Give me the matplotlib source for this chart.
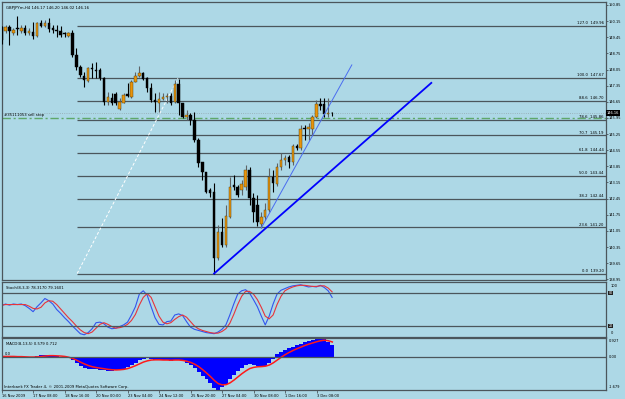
import matplotlib
matplotlib.use("Agg")
import matplotlib.pyplot as plt
import numpy as np

# --- candles (GBPJPYm H4) ---
opens = [149.90, 149.71, 149.88, 149.62, 149.84, 149.73, 149.84, 149.62, 149.69, 149.51,
         150.08, 149.95, 150.08, 149.84, 149.77, 149.72, 149.62, 149.52, 149.65, 148.68,
         148.17, 147.77, 147.55, 148.10, 148.03, 148.03, 147.67, 146.65, 146.83, 146.98,
         146.33, 146.61, 146.98, 146.87, 147.52, 147.77, 147.91, 147.67, 147.24, 146.73,
         146.59, 146.76, 146.85, 146.90, 146.65, 147.42, 146.59, 145.98, 146.08, 145.86,
         144.99, 144.03, 143.59, 142.82, 142.75, 139.86, 141.00, 140.44, 141.65, 143.04,
         142.95, 142.82, 142.95, 143.69, 142.48, 142.17, 141.35, 141.65, 141.96, 143.39,
         143.08, 143.82, 144.13, 144.26, 144.04, 144.73, 144.65, 145.51, 145.47, 145.47,
         145.99, 146.56, 146.56, 146.12, 146.17]
highs = [149.94, 149.98, 149.98, 149.84, 150.37, 149.98, 149.98, 149.84, 150.13, 150.13,
         150.20, 150.20, 150.27, 149.98, 149.98, 149.94, 149.69, 149.69, 149.77, 148.97,
         148.25, 147.96, 148.17, 148.32, 148.39, 148.10, 147.74, 147.09, 147.02, 147.09,
         146.80, 147.05, 147.45, 147.60, 147.96, 148.20, 147.96, 147.74, 147.45, 147.02,
         147.09, 147.02, 147.05, 147.02, 147.60, 147.63, 146.62, 146.29, 146.15, 146.22,
         145.07, 144.05, 143.62, 142.90, 143.11, 141.31, 141.61, 142.17, 143.39, 143.47,
         143.04, 143.26, 143.91, 143.82, 142.69, 142.61, 141.87, 142.26, 143.78, 143.69,
         144.00, 144.43, 144.34, 144.34, 144.82, 144.82, 145.64, 145.64, 145.73, 146.08,
         146.73, 146.82, 146.82, 146.82, 146.20]
lows = [149.16, 149.62, 149.11, 149.55, 149.55, 149.62, 149.55, 149.55, 149.36, 149.47,
        149.91, 149.91, 149.69, 149.62, 149.47, 149.47, 149.47, 149.47, 148.61, 148.03,
        147.74, 147.31, 147.52, 147.67, 147.67, 147.60, 146.51, 146.51, 146.51, 146.51,
        146.29, 146.59, 146.87, 146.83, 147.50, 147.74, 147.60, 147.09, 146.65, 146.22,
        146.22, 146.73, 146.59, 146.51, 146.59, 146.08, 145.93, 145.86, 145.64, 144.92,
        143.83, 143.26, 142.68, 142.51, 139.20, 139.79, 140.35, 140.35, 141.61, 142.82,
        142.52, 142.61, 142.82, 142.17, 141.44, 141.26, 141.18, 141.52, 141.87, 142.74,
        143.00, 143.69, 143.91, 143.78, 143.91, 144.56, 144.56, 144.99, 144.99, 145.21,
        145.95, 146.29, 145.99, 145.99, 146.02]
closes = [149.33, 149.88, 149.73, 149.77, 149.80, 149.84, 149.65, 149.72, 149.51, 150.08,
          149.94, 150.08, 149.80, 149.77, 149.72, 149.55, 149.59, 149.62, 148.68, 148.17,
          147.81, 147.60, 148.10, 148.06, 147.99, 147.67, 146.65, 146.87, 146.59, 146.59,
          146.65, 146.95, 146.92, 147.52, 147.77, 147.91, 147.63, 147.24, 146.73, 146.63,
          146.76, 146.87, 146.90, 146.59, 147.42, 146.59, 146.00, 146.08, 145.86, 144.99,
          143.98, 143.62, 142.75, 142.71, 139.86, 141.02, 140.44, 141.70, 142.95, 142.95,
          142.61, 143.08, 143.69, 142.48, 141.87, 141.44, 141.65, 141.96, 143.39, 143.13,
          143.82, 144.13, 144.21, 144.04, 144.73, 144.65, 145.47, 145.47, 145.56, 145.99,
          146.56, 146.47, 146.12, 146.16, 146.16]

# --- Stochastic(8,3,3) ---
stoch_main = [57, 60, 58, 60, 59, 60, 57, 52, 46, 55, 62, 70, 66, 60, 50, 43, 35, 28, 20, 13,
              6, 4, 8, 15, 26, 27, 24, 18, 15, 16, 19, 22, 27, 40, 55, 78, 84, 76, 55, 35,
              23, 22, 28, 29, 40, 42, 39, 28, 18, 14, 12, 10, 8, 7, 6, 9, 14, 22, 40, 60,
              78, 84, 86, 80, 68, 55, 38, 22, 38, 60, 78, 85, 88, 91, 93, 94, 95, 93, 91, 92,
              91, 94, 90, 84, 72]
stoch_signal = [58, 59, 59, 59, 59, 59, 59, 56, 52, 51, 54, 62, 66, 65, 59, 51, 43, 35, 28, 20,
                13, 8, 6, 9, 16, 23, 26, 23, 19, 16, 17, 19, 23, 30, 41, 58, 72, 79, 72, 55,
                38, 27, 24, 26, 32, 37, 40, 36, 28, 20, 15, 12, 10, 8, 7, 7, 10, 15, 25, 41,
                59, 74, 83, 83, 78, 68, 54, 38, 33, 40, 59, 74, 84, 88, 91, 93, 94, 94, 93, 92,
                92, 93, 93, 89, 82]

# --- MACD(8,13,5) ---
macd_hist = [0.02, 0.02, 0.01, 0.0, 0.0, -0.01, -0.02, -0.03, -0.04, 0.03,
             0.06, 0.08, 0.07, 0.05, 0.02, 0.0, -0.02, -0.08, -0.18, -0.32,
             -0.45, -0.55, -0.60, -0.62, -0.63, -0.65, -0.68, -0.70, -0.70, -0.68,
             -0.66, -0.60, -0.52, -0.40, -0.30, -0.18, -0.10, -0.08, -0.10, -0.15,
             -0.17, -0.18, -0.18, -0.20, -0.15, -0.17, -0.22, -0.30, -0.40, -0.55,
             -0.75, -0.95, -1.15, -1.35, -1.60, -1.68, -1.55, -1.38, -1.15, -0.90,
             -0.70, -0.55, -0.42, -0.38, -0.40, -0.45, -0.48, -0.45, -0.30, -0.10,
             0.12, 0.25, 0.35, 0.42, 0.50, 0.58, 0.66, 0.72, 0.78, 0.83,
             0.88, 0.92, 0.88, 0.75, 0.60]
macd_signal = [0.01, 0.01, 0.01, 0.01, 0.0, 0.0, -0.01, -0.02, -0.02, -0.01,
               0.01, 0.03, 0.05, 0.05, 0.04, 0.03, 0.01, -0.03, -0.09, -0.18,
               -0.28, -0.37, -0.45, -0.51, -0.55, -0.58, -0.61, -0.64, -0.66, -0.67,
               -0.66, -0.64, -0.60, -0.53, -0.45, -0.36, -0.27, -0.21, -0.17, -0.16,
               -0.16, -0.17, -0.17, -0.18, -0.17, -0.17, -0.19, -0.23, -0.29, -0.38,
               -0.50, -0.65, -0.82, -1.00, -1.20, -1.36, -1.42, -1.41, -1.32, -1.18,
               -1.02, -0.86, -0.72, -0.60, -0.54, -0.51, -0.50, -0.48, -0.42, -0.31,
               -0.17, -0.03, 0.10, 0.21, 0.31, 0.40, 0.48, 0.56, 0.63, 0.69,
               0.75, 0.80, 0.83, 0.80, 0.74]

# --- objects drawn on the chart ---
fib_levels = [0.0, 23.6, 38.2, 50.0, 61.8, 70.7, 78.6, 88.6, 100.0, 127.0]
fib_prices = [139.20, 141.20, 142.44, 143.44, 144.44, 145.19, 145.86, 146.70, 147.67, 149.96]
fib_anchor_x = [19.2, 44.8]
fib_anchor_y = [139.20, 147.67]
trend_thick_x = [54, 109.2]
trend_thick_y = [139.20, 147.47]
trend_thin_x = [66, 89.0]
trend_thin_y = [141.18, 148.25]
sell_stop = 145.95
bid = 146.16

price_ticks = [150.85, 150.15, 149.45, 148.75, 148.05, 147.35, 146.65, 145.95, 145.25,
               144.55, 143.85, 143.15, 142.45, 141.75, 141.05, 140.35, 139.65, 138.95]
time_pos = [0, 8, 16, 24, 32, 40, 48, 56, 64, 72, 80]
time_labels = ["16 Nov 2009", "17 Nov 08:00", "18 Nov 16:00", "20 Nov 00:00", "23 Nov 04:00",
               "24 Nov 12:00", "25 Nov 20:00", "27 Nov 04:00", "30 Nov 08:00", "1 Dec 16:00",
               "3 Dec 08:00"]

plt.rcParams["font.family"] = ["DejaVu Sans"]
plt.rcParams["font.stretch"] = "condensed"

W, H = 625, 399
BG = "#add8e6"
FRAME = "#4b565c"
UP = "#e8940c"
FS = 3.1
TS = 2.9

fig = plt.figure(figsize=(W / 100, H / 100), dpi=100, facecolor=BG)


def rect(x0, y0, x1, y1):
    return [x0 / W, 1 - y1 / H, (x1 - x0) / W, (y1 - y0) / H]


ax = fig.add_axes(rect(2, 2, 606, 280), facecolor=BG)
ax_st = fig.add_axes(rect(2, 282, 606, 337), facecolor=BG)
ax_md = fig.add_axes(rect(2, 338, 606, 390), facecolor=BG)

idx = np.arange(len(opens))
xlim = (0.1, 153.6)

for a in (ax, ax_st, ax_md):
    a.set_xlim(*xlim)
    for s in a.spines.values():
        s.set_color(FRAME)
        s.set_linewidth(0.9)
    a.yaxis.tick_right()
    a.tick_params(axis="both", colors=FRAME, labelcolor="black", labelsize=TS,
                  length=1.5, width=0.6, pad=0.6)
    a.set_xticks([])

# main price window
o = np.array(opens)
c = np.array(closes)
up = c >= o
ax.vlines(idx[up], np.array(lows)[up], np.array(highs)[up], color="#5e6366", lw=0.8, zorder=3)
ax.vlines(idx[~up], np.array(lows)[~up], np.array(highs)[~up], color="black", lw=0.8, zorder=3)
body = np.maximum(np.abs(c - o), 0.012)
ax.bar(idx[up], body[up], bottom=np.minimum(o, c)[up], width=0.62, color=UP,
       edgecolor="#4a3a10", linewidth=0.3, zorder=4)
ax.bar(idx[~up], body[~up], bottom=np.minimum(o, c)[~up], width=0.62, color="black",
       edgecolor="black", linewidth=0.3, zorder=4)

ax.hlines(fib_prices, fib_anchor_x[0], xlim[1], color=FRAME, lw=0.9, zorder=2)
for lvl, p in zip(fib_levels, fib_prices):
    ax.text(xlim[1] - 0.6, p + 0.04, f"{lvl:.1f}  {p:.2f}", ha="right", va="bottom",
            fontsize=FS, color="black")
ax.plot(fib_anchor_x, fib_anchor_y, color="white", lw=0.7, ls=(0, (3, 2)), zorder=2)

ax.plot(trend_thick_x, trend_thick_y, color="#0000ff", lw=1.3, zorder=5)
ax.plot(trend_thin_x, trend_thin_y, color="#4a6cf0", lw=0.7, zorder=5)

ax.axhline(sell_stop, color="#5ea86a", lw=1.0, ls=(0, (6, 2, 1.5, 2)), zorder=2)
ax.axhline(bid, color="#93a7ae", lw=0.6, ls=":", zorder=2)
ax.text(0.004, sell_stop + 0.05, "#35111053 sell stop", transform=ax.get_yaxis_transform(),
        fontsize=FS, va="bottom", ha="left")
ax.text(0.006, 0.985, "GBPJPYm,H4 146.17 146.20 146.02 146.16", transform=ax.transAxes,
        fontsize=FS, va="top", ha="left")

ax.set_ylim(138.92, 150.98)
ax.set_yticks(price_ticks)
ax.set_yticklabels([f"{p:.2f}" for p in price_ticks])
ax.text(1.0015, bid, f"{bid:.2f}", transform=ax.get_yaxis_transform(), fontsize=TS,
        color="white", va="center", ha="left",
        bbox=dict(facecolor="black", edgecolor="none", pad=0.5))

# stochastic window
ax_st.plot(idx, stoch_main, color="#3355ee", lw=0.8)
ax_st.plot(idx, stoch_signal, color="#e8343a", lw=0.8)
ax_st.axhline(80, color=FRAME, lw=0.9)
ax_st.axhline(20, color=FRAME, lw=0.9)
ax_st.set_ylim(0, 100)
ax_st.set_yticks([])
ax_st.text(0.006, 0.93, "Stoch(8,3,3) 78.3170 79.1601", transform=ax_st.transAxes,
           fontsize=FS, va="top", ha="left")
tr = ax_st.get_yaxis_transform()
ax_st.text(1.008, 93, "100", transform=tr, fontsize=TS, va="center", ha="left")
ax_st.text(1.008, 7, "0", transform=tr, fontsize=TS, va="center", ha="left")
for lv in (80, 20):
    ax_st.text(1.004, lv, str(lv), transform=tr, fontsize=2.6, color="white", va="center",
               ha="left", bbox=dict(facecolor="#222222", edgecolor="none", pad=0.3))

# MACD window
ax_md.bar(idx, macd_hist, width=1.0, color="#0000ff", edgecolor="none")
ax_md.plot(idx, macd_signal, color="#ff1a1a", lw=1.1)
ax_md.axhline(0, color=FRAME, lw=0.9)
ax_md.set_ylim(-1.68, 0.94)
ax_md.set_yticks([])
ax_md.text(0.006, 0.93, "MACD(8,13,5) 0.579 0.712", transform=ax_md.transAxes,
           fontsize=FS, va="top", ha="left")
ax_md.text(0.004, 0.03, "0.0", transform=ax_md.get_yaxis_transform(), fontsize=FS,
           va="bottom", ha="left")
ax_md.text(0.004, 0.02, "Interbank FX Trader 4, \u00a9 2001-2009 MetaQuotes Software Corp.",
           transform=ax_md.transAxes, fontsize=FS, va="bottom", ha="left")
tm = ax_md.get_yaxis_transform()
ax_md.text(1.004, 0.81, "0.927", transform=tm, fontsize=TS, va="center", ha="left")
ax_md.text(1.004, 0.0, "0.00", transform=tm, fontsize=TS, va="center", ha="left")
ax_md.text(1.004, -1.54, "-1.679", transform=tm, fontsize=TS, va="center", ha="left")

ax_md.set_xticks(time_pos)
ax_md.set_xticklabels(time_labels, ha="left")
ax_md.tick_params(axis="x", length=2, pad=1)

fig.savefig("out.png", dpi=100, facecolor=BG)
